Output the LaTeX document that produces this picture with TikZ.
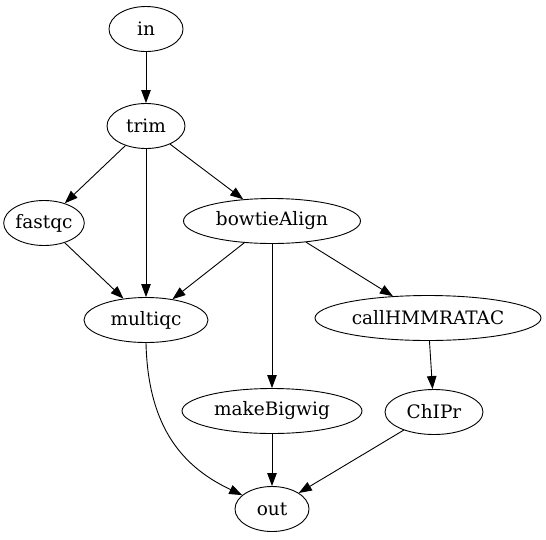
\documentclass[tikz,border=0pt]{standalone}
\usepackage{fontspec}
\setmainfont{DejaVu Serif}
\usetikzlibrary{shapes.geometric,arrows.meta}

\begin{document}
\begin{tikzpicture}[x=1pt,y=-1pt]
  % Estilos de nodos y flechas
  \tikzset{
    task/.style={ellipse, draw, line width=0.9pt, inner sep=0pt, minimum height=45pt, font=\fontsize{18.5}{20}\selectfont},
    edge/.style={-{Triangle[length=13pt,width=9.5pt]}, line width=0.9pt}
  }

  % Marco de la figura
  \useasboundingbox (0,0) rectangle (546,539);

  % Nodos
  \node[task, minimum width=74pt] (in) at (146, 29) {in};
  \node[task, minimum width=78pt] (trim) at (146, 126) {trim};
  \node[task, minimum width=80pt] (fastqc) at (44, 223) {fastqc};
  \node[task, minimum width=177pt] (bowtieAlign) at (272, 221) {bowtieAlign};
  \node[task, minimum width=124pt] (multiqc) at (146, 320) {multiqc};
  \node[task, minimum width=226pt] (callHMMRATAC) at (428, 318) {callHMMRATAC};
  \node[task, minimum width=180pt] (makeBigwig) at (272, 411) {makeBigwig};
  \node[task, minimum width=98pt] (ChIPr) at (434, 412) {ChIPr};
  \node[task, minimum width=74pt] (out) at (272, 509) {out};

  % Conexiones
  \draw[edge] (in) -- (trim);
  \draw[edge] (trim) -- (fastqc);
  \draw[edge] (trim.south) -- (multiqc.north);
  \draw[edge] (trim) -- (bowtieAlign);
  \draw[edge] (fastqc) -- (multiqc);
  \draw[edge] (bowtieAlign) -- (multiqc);
  \draw[edge] (bowtieAlign) -- (makeBigwig);
  \draw[edge] (bowtieAlign) -- (callHMMRATAC);
  \draw[edge] (callHMMRATAC) -- (ChIPr);
  \draw[edge] (multiqc.south) .. controls (148, 430) and (185, 468) .. (out.155);
  \draw[edge] (makeBigwig) -- (out);
  \draw[edge] (ChIPr) -- (out);
\end{tikzpicture}
\end{document}
